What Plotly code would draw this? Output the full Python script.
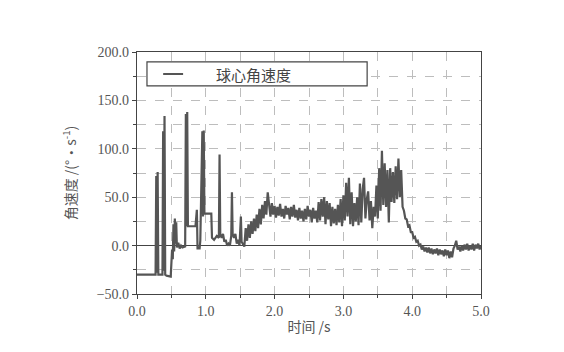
import numpy as np
import plotly.graph_objects as go

# Early segment (explicit time / value pairs), seconds and deg/s
t_early = [0.00, 0.27, 0.28, 0.29, 0.30, 0.31, 0.37, 0.38, 0.39, 0.40, 0.41, 0.43, 0.49,
           0.50, 0.51, 0.52, 0.53, 0.54, 0.55, 0.56, 0.57, 0.58, 0.60, 0.62, 0.64, 0.66,
           0.70, 0.71, 0.72, 0.73, 0.74, 0.85, 0.86, 0.87, 0.88, 0.91, 0.92, 0.95, 0.96,
           0.97, 0.98, 1.08, 1.09, 1.12, 1.16, 1.19, 1.20, 1.21, 1.23, 1.25, 1.27, 1.29,
           1.31, 1.33, 1.35, 1.37, 1.38, 1.39, 1.41, 1.43, 1.45, 1.47, 1.49, 1.51, 1.52,
           1.54, 1.56, 1.58, 1.60, 1.62, 1.64, 1.66, 1.68, 1.70, 1.72, 1.74, 1.76, 1.78,
           1.80, 1.82, 1.84, 1.86, 1.88, 1.90]
v_early = [-30, -30, 72, -28, 76, -30, -30, 118, -26, 134, -30, -31, -32,
           -12, -4, -14, 22, -6, 28, 2, 24, -2, 3, -3, 0, -2,
           -1, 136, 20, 138, 20, 20, 37, 37, -3, -3, 5, 118, 30,
           119, 33, 33, 8, 6, 10, 8, 94, 12, 8, 12, 4, 6,
           0, 2, 0, 10, 55, 12, 8, 12, 2, 6, 0, 30, 4,
           2, -1, 18, 5, 22, 8, 25, 12, 28, 15, 32, 18, 38,
           22, 42, 28, 46, 32, 55]

# Later segment sampled every 0.02 s starting at 1.92 s
late_start = 1.92
late_step = 0.02
v_late = [38, 30, 44, 32, 41, 29, 40, 31, 43, 30, 38, 28, 41, 32, 39, 27, 40, 30, 42, 29,
          37, 26, 39, 28, 36, 25, 38, 27, 41, 30, 37, 24, 39, 28, 36,
          24, 45, 26, 48, 30, 50, 22, 46, 27, 44, 20, 40, 23, 38, 21,
          42, 24, 48, 20, 52, 26, 65, 30, 70, 22, 55, 20, 44, 25, 50, 21, 64, 24, 58, 70,
          28, 48, 56, 26, 46, 18, 40,
          30, 62, 28, 80, 36, 98, 42, 85, 40, 78, 24, 80, 45, 76, 44, 82, 48, 90, 50, 78, 40,
          36, 28, 27, 20, 21, 14, 14, 8, 9, 4, 5, 0, 1, -4, -1, -6, -2,
          -7, -2, -8, -3, -9, -4, -8, -3, -10, -4, -9, -5, -11, -4, -10, -5, -13, -6, -12, -3,
          0, 5, -4, -1, -6, 0, -5, 1, -4, 2, -5, 0, -4, 2, -5, 1, -3, 2, -4, 0]

t_late = list(np.round(late_start + late_step * np.arange(len(v_late)), 2))
t_all = t_early + t_late
v_all = v_early + v_late

series_name = "球心角速度"
x_title = "时间 /s"
y_title = "角速度 /(°·s<sup>-1</sup>)"

font_fam = "Liberation Serif, Noto Sans CJK SC, serif"
cjk_fam = "Noto Sans CJK SC, Liberation Serif, serif"
axis_col = "#444444"
grid_col = "#bdbdbd"
line_col = "#555555"

fig = go.Figure()
fig.add_trace(go.Scatter(
    x=t_all, y=v_all, mode="lines", name=series_name, showlegend=False,
    line=dict(color=line_col, width=2.2),
))

# legend box drawn in paper coordinates
fig.add_shape(type="rect", xref="paper", yref="paper",
              x0=0.029, x1=0.669, y0=0.860, y1=0.959,
              line=dict(color=axis_col, width=1.2), fillcolor="white", layer="above")
fig.add_shape(type="line", xref="paper", yref="paper",
              x0=0.076, x1=0.134, y0=0.909, y1=0.909,
              line=dict(color=line_col, width=2), layer="above")
fig.add_annotation(xref="paper", yref="paper", x=0.340, y=0.909,
                   text=series_name, showarrow=False, xanchor="center", yanchor="middle",
                   font=dict(family=cjk_fam, size=15, color="#444444"))

fig.update_layout(
    width=564, height=352,
    margin=dict(l=137, r=83, t=52, b=58),
    paper_bgcolor="white", plot_bgcolor="white",
    font=dict(family=font_fam, size=14, color="#555555"),
    showlegend=False,
)

fig.update_xaxes(
    range=[0, 5], dtick=1, tick0=0, tickformat=".1f",
    showline=True, linecolor=axis_col, linewidth=1.2, mirror=True,
    ticks="outside", ticklen=4, tickcolor=axis_col,
    showgrid=True, gridcolor=grid_col, griddash="dash", gridwidth=1,
    minor=dict(dtick=0.5, showgrid=True, gridcolor=grid_col, griddash="dash",
               ticks="outside", ticklen=3, tickcolor=axis_col),
    zeroline=False,
    title=dict(text=x_title, standoff=4, font=dict(family=cjk_fam, size=14, color="#555555")),
    tickfont=dict(size=14, color="#555555"),
)
fig.update_yaxes(
    range=[-50, 200], dtick=50, tick0=0, tickformat=".1f",
    showline=True, linecolor=axis_col, linewidth=1.2, mirror=True,
    ticks="outside", ticklen=4, tickcolor=axis_col,
    showgrid=True, gridcolor=grid_col, griddash="dash", gridwidth=1,
    minor=dict(dtick=25, showgrid=True, gridcolor=grid_col, griddash="dash",
               ticks="outside", ticklen=3, tickcolor=axis_col),
    zeroline=True, zerolinecolor=axis_col, zerolinewidth=1.2,
    title=dict(text=y_title, standoff=16, font=dict(family=cjk_fam, size=14, color="#555555")),
    tickfont=dict(size=14, color="#555555"),
)

fig.write_html("out.html")
